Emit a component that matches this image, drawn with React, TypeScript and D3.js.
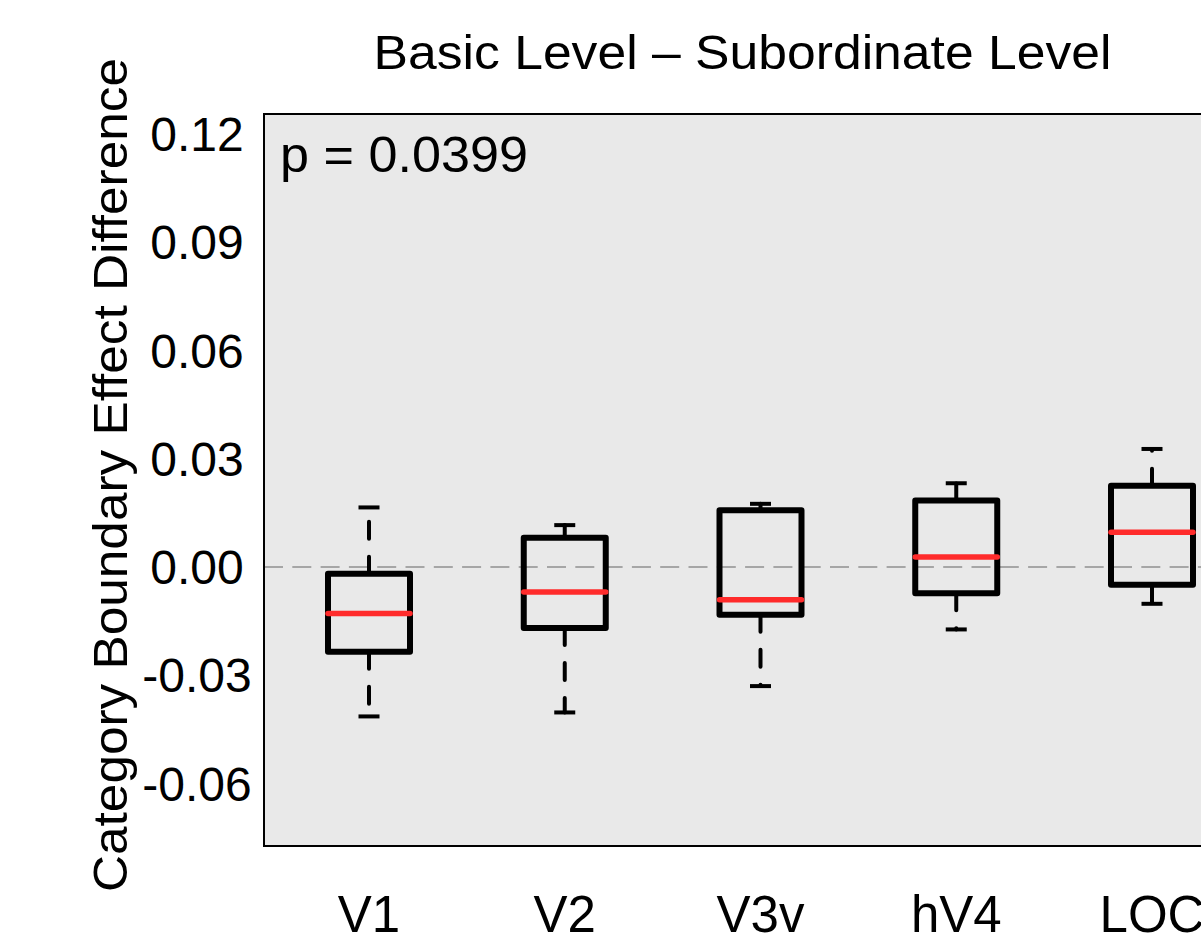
import React from "react";
import * as d3 from "d3";

const categories = ["V1", "V2", "V3v", "hV4", "LOC"];
const lowerWhisker = [-0.0414, -0.0403, -0.033, -0.0173, -0.0102];
const q1 = [-0.0235, -0.0169, -0.0132, -0.0073, -0.0049];
const median = [-0.0129, -0.0069, -0.0091, 0.0028, 0.0096];
const q3 = [-0.0019, 0.0081, 0.0157, 0.0184, 0.0225];
const upperWhisker = [0.0165, 0.0116, 0.0175, 0.0232, 0.0327];
const yTicks = [-0.06, -0.03, 0, 0.03, 0.06, 0.09, 0.12];
const titleText = "Basic Level \u2013 Subordinate Level";
const yLabelText = "Category Boundary Effect Difference";
const pText = "p = 0.0399";

const FONT = "'Liberation Sans', Arial, Helvetica, sans-serif";

export default function App() {
  const W = 1201;
  const H = 936;
  const left = 264;
  const top = 114;
  const bottom = 846;
  const right = 1420;

  const y = d3.scaleLinear().domain([-0.0773, 0.1255]).range([bottom, top]);
  const x = d3.scalePoint<string>().domain(categories).range([369, 1152]);
  const fmt = (v: number) => d3.format(".2f")(v).replace("\u2212", "-");
  const halfBox = 41;
  const halfCap = 10.5;

  return (
    <svg
      width={W}
      height={H}
      style={{ position: "absolute", left: 0, top: 0, background: "#fff" }}
      fontFamily={FONT}
    >
      <rect x={left} y={top} width={right - left} height={bottom - top} fill="#E9E9E9" />
      <line
        x1={left}
        x2={right}
        y1={y(0)}
        y2={y(0)}
        stroke="#A6A6A6"
        strokeWidth={2}
        strokeDasharray="19 9.3"
      />
      {categories.map((c, i) => {
        const cx = x(c)!;
        return (
          <g key={c}>
            <line x1={cx} x2={cx} y1={y(q3[i])} y2={y(upperWhisker[i])} stroke="#000" strokeWidth={4}
              strokeDasharray="17 18" strokeLinecap="round" />
            <line x1={cx} x2={cx} y1={y(q1[i])} y2={y(lowerWhisker[i])} stroke="#000" strokeWidth={4}
              strokeDasharray="17 18" strokeLinecap="round" />
            <line x1={cx - halfCap} x2={cx + halfCap} y1={y(upperWhisker[i])} y2={y(upperWhisker[i])}
              stroke="#000" strokeWidth={4} />
            <line x1={cx - halfCap} x2={cx + halfCap} y1={y(lowerWhisker[i])} y2={y(lowerWhisker[i])}
              stroke="#000" strokeWidth={4} />
            <rect x={cx - halfBox} width={halfBox * 2} y={y(q3[i])} height={y(q1[i]) - y(q3[i])}
              fill="none" stroke="#000" strokeWidth={6} strokeLinejoin="round" />
            <line x1={cx - halfBox} x2={cx + halfBox} y1={y(median[i])} y2={y(median[i])}
              stroke="#FF2B2B" strokeWidth={5.5} strokeLinecap="round" />
          </g>
        );
      })}
      <rect x={left} y={top} width={right - left} height={bottom - top} fill="none" stroke="#000" strokeWidth={2} />

      {yTicks.map((t) => (
        <text
          key={t}
          x={197}
          y={y(t) + 17.2}
          textAnchor="middle"
          fontSize={48}
          fill="#000"
        >
          {fmt(t)}
        </text>
      ))}

      {categories.map((c) => (
        <text key={c} x={x(c)} y={931.7} textAnchor="middle" fontSize={51} fill="#000">
          {c}
        </text>
      ))}

      <text x={742.5} y={68.5} textAnchor="middle" fontSize={49} textLength={738}
        lengthAdjust="spacingAndGlyphs" fill="#000">
        {titleText}
      </text>
      <text transform="translate(127, 475) rotate(-90)" textAnchor="middle" fontSize={49}
        textLength={834} lengthAdjust="spacingAndGlyphs" fill="#000">
        {yLabelText}
      </text>
      <text x={280} y={171.7} fontSize={50} textLength={248} lengthAdjust="spacingAndGlyphs" fill="#000">
        {pText}
      </text>
    </svg>
  );
}
